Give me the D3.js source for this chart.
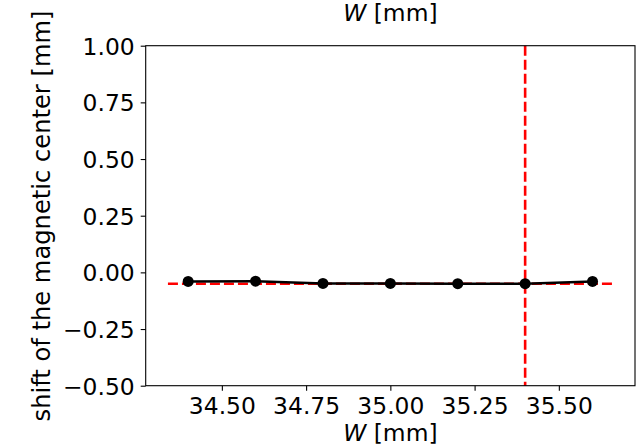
<!DOCTYPE html>
<html>
<head>
<meta charset="utf-8">
<script src="https://cdn.jsdelivr.net/npm/d3@7"></script>
<style>
  body { margin: 0; background: #fff; }
  text { font-family: "DejaVu Sans", sans-serif; fill: #000; }
</style>
</head>
<body>
<script>
  // data
  var widths = [34.4, 34.6, 34.8, 35.0, 35.2, 35.4, 35.6];
  var shifts = [-0.040, -0.039, -0.049, -0.049, -0.050, -0.050, -0.040];
  var refShift = -0.050;
  var refWidth = 35.4;
  var refRange = [34.34, 35.66];
  var xTicks = [34.50, 34.75, 35.00, 35.25, 35.50];
  var yTicks = [-0.50, -0.25, 0.00, 0.25, 0.50, 0.75, 1.00];

  var w = 636, h = 447;
  var m = { left: 145.7, right: 635, top: 45.7, bottom: 385.7 };
  var fs = 23.4;

  var svg = d3.select("body").append("svg")
    .attr("width", w)
    .attr("height", h);

  var x = d3.scaleLinear().domain([34.274, 35.726]).range([m.left, m.right]);
  var y = d3.scaleLinear().domain([-0.5, 1.0]).range([m.bottom, m.top]);

  // reference lines
  svg.append("line")
    .attr("x1", x(refRange[0])).attr("x2", x(refRange[1]))
    .attr("y1", y(refShift)).attr("y2", y(refShift))
    .attr("stroke", "#ff0000").attr("stroke-width", 2.6)
    .attr("stroke-dasharray", "10,4");

  svg.append("line")
    .attr("x1", x(refWidth)).attr("x2", x(refWidth))
    .attr("y1", y(1.0)).attr("y2", y(-0.5))
    .attr("stroke", "#ff0000").attr("stroke-width", 2.6)
    .attr("stroke-dasharray", "10,4");

  var pts = widths.map(function (d, i) { return [d, shifts[i]]; });

  svg.append("path")
    .datum(pts)
    .attr("fill", "none")
    .attr("stroke", "#000")
    .attr("stroke-width", 2.6)
    .attr("d", d3.line().x(function (d) { return x(d[0]); }).y(function (d) { return y(d[1]); }));

  svg.selectAll("circle.pt")
    .data(pts)
    .enter().append("circle")
    .attr("class", "pt")
    .attr("cx", function (d) { return x(d[0]); })
    .attr("cy", function (d) { return y(d[1]); })
    .attr("r", 5.5)
    .attr("fill", "#000");

  // axes
  var xAxis = d3.axisBottom(x).tickValues(xTicks).tickFormat(d3.format(".2f"))
    .tickSize(5).tickPadding(6);
  var yAxis = d3.axisLeft(y).tickValues(yTicks)
    .tickFormat(function (d) { return d3.format(".2f")(d).replace("-", "\u2212"); })
    .tickSize(5).tickPadding(6);

  var gx = svg.append("g")
    .attr("transform", "translate(0," + m.bottom + ")")
    .call(xAxis);
  var gy = svg.append("g")
    .attr("transform", "translate(" + m.left + ",0)")
    .call(yAxis);

  [gx, gy].forEach(function (g) {
    g.select(".domain").remove();
    g.selectAll(".tick line").attr("stroke", "#000").attr("stroke-width", 1.1);
    g.selectAll(".tick text")
      .style("font-family", "'DejaVu Sans', sans-serif")
      .style("font-size", fs + "px")
      .attr("fill", "#000");
  });
  gy.selectAll(".tick text").attr("dy", "0.36em");
  gx.selectAll(".tick text").attr("dy", "0.74em");

  // frame
  svg.append("rect")
    .attr("x", m.left).attr("y", m.top)
    .attr("width", m.right - m.left).attr("height", m.bottom - m.top)
    .attr("fill", "none").attr("stroke", "#000").attr("stroke-width", 1.1);

  // labels
  function wLabel(sel) {
    sel.append("tspan").style("font-style", "italic").text("W");
    sel.append("tspan").text(" [mm]");
  }

  svg.append("text")
    .attr("x", (m.left + m.right) / 2)
    .attr("y", 441)
    .attr("text-anchor", "middle")
    .style("font-size", fs + "px")
    .call(wLabel);

  svg.append("text")
    .attr("x", (m.left + m.right) / 2)
    .attr("y", 21)
    .attr("text-anchor", "middle")
    .style("font-size", fs + "px")
    .call(wLabel);

  svg.append("text")
    .attr("transform", "translate(50,216) rotate(-90)")
    .attr("text-anchor", "middle")
    .style("font-size", "24.2px")
    .text("shift of the magnetic center [mm]");
</script>
</body>
</html>
